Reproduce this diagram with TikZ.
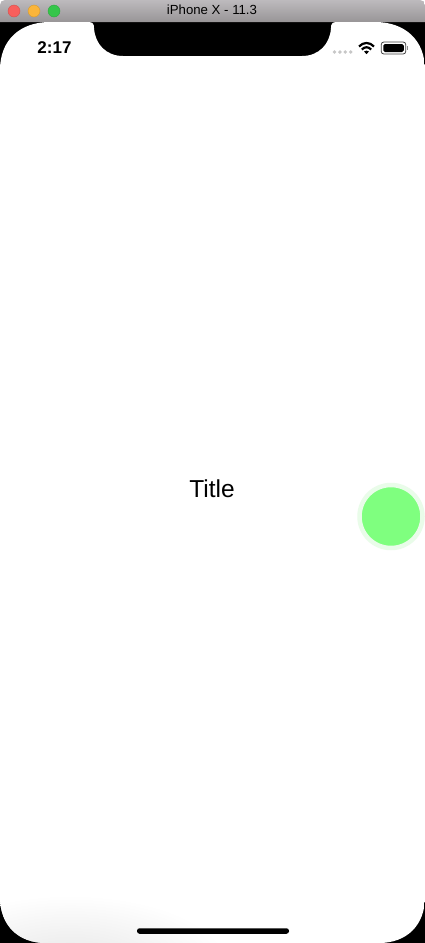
\documentclass[tikz,border=0pt]{standalone}
\usepackage{fontspec}
\setmainfont{Liberation Sans}
\usetikzlibrary{positioning}

\definecolor{barTop}{HTML}{BDBABD}
\definecolor{barBottom}{HTML}{989597}
\definecolor{btnRed}{HTML}{F85F5C}
\definecolor{btnYellow}{HTML}{FBB53A}
\definecolor{btnGreen}{HTML}{35C64A}
\definecolor{ballGreen}{HTML}{7FFF7F}
\definecolor{ballRing}{HTML}{E9FCE9}

\begin{document}
\begin{tikzpicture}[x=1pt, y=-1pt,
  winbtn/.style={circle, inner sep=0pt, minimum size=12pt, fill=#1, draw=#1!85!black, line width=0.4pt},
  sigdot/.style={circle, inner sep=0pt, minimum size=3.8pt, fill=black!22},
  wifiarc/.style={draw=black, line width=2.2pt},
  statustext/.style={font=\fontsize{17}{20}\selectfont\bfseries, inner sep=0pt},
]
\useasboundingbox (0,0) rectangle (425,943);

% window and bezel
\fill[black] (0,21) rectangle (425,943);
\shade[top color=barTop, bottom color=barBottom]
  (0,22) -- (0,5) .. controls (0,2) and (2,0) .. (5,0) -- (420,0)
  .. controls (423,0) and (425,2) .. (425,5) -- (425,22) -- cycle;

\node[winbtn=btnRed] (closebtn) at (14,11) {};
\node[winbtn=btnYellow] (minbtn) at (34,11) {};
\node[winbtn=btnGreen] (zoombtn) at (54,11) {};
\node[font=\fontsize{13.2}{15}\selectfont, inner sep=0pt] (wintitle) at (212,10) {iPhone X - 11.3};

% screen with the notch
\begin{scope}
\path[clip] (0,70) .. controls (0,40) and (20,22) .. (50,22) -- (88,22)
  .. controls (93,22) and (94,24) .. (94,28)
  .. controls (95,44) and (106,56) .. (123,56) -- (302,56)
  .. controls (319,56) and (330,44) .. (331,28)
  .. controls (331,24) and (332,22) .. (337,22) -- (375,22)
  .. controls (405,22) and (425,40) .. (425,70) -- (425,897)
  .. controls (425,925) and (407,943) .. (379,943) -- (46,943)
  .. controls (18,943) and (0,925) .. (0,897) -- cycle;
\fill[white] (0,0) rectangle (425,943);
\shade[inner color=black!10, outer color=white] (-90,895) rectangle (230,1040);
\end{scope}

% status bar
\node[statustext] (clock) at (54.5,48) {2:17};
\node[sigdot] (sigA) at (334.5,52) {};
\node[sigdot, right=1.2pt of sigA] (sigB) {};
\node[sigdot, right=1.2pt of sigB] (sigC) {};
\node[sigdot, right=1.2pt of sigC] (sigD) {};
\draw[wifiarc] (359,46.5) .. controls (363.5,41.8) and (369.5,41.8) .. (374,46.5);
\draw[wifiarc] (361.8,49.5) .. controls (365,46.5) and (368,46.5) .. (371.2,49.5);
\fill (364,51.4) -- (366.5,54.2) -- (369,51.4) .. controls (367.5,50.4) and (365.5,50.4) .. (364,51.4) -- cycle;
\node[draw=black!75, line width=0.8pt, rounded corners=2.6pt, inner sep=0pt, minimum width=24.5pt, minimum height=12pt] (battery) at (393.5,48) {};
\node[fill=black, rounded corners=1.6pt, inner sep=0pt, minimum width=20.5pt, minimum height=8pt] (batfill) at (393.5,48) {};
\node[fill=black!45, inner sep=0pt, minimum width=1.3pt, minimum height=4pt, right=0.8pt of battery] (battip) {};

% content
\node[font=\fontsize{24.5}{28}\selectfont, inner sep=0pt] (title) at (212,489) {Title};
\node[circle, inner sep=0pt, minimum size=63pt, fill=ballGreen, draw=ballRing, line width=4.5pt] (ball) at (391,516.5) {};

% home indicator
\node[fill=black, rounded corners=2.5pt, inner sep=0pt, minimum width=152pt, minimum height=5.5pt] (homebar) at (213,931) {};
\end{tikzpicture}
\end{document}
